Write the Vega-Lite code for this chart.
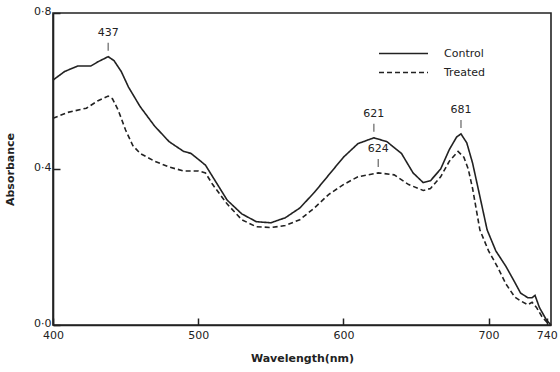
{
  "$schema": "https://vega.github.io/schema/vega-lite/v6.json",
  "width": 498,
  "height": 312,
  "autosize": {"type": "none"},
  "padding": {"left": 53, "top": 13, "right": 9, "bottom": 47},
  "background": "white",
  "config": {
    "view": {"stroke": "#222", "strokeWidth": 1.6},
    "font": "DejaVu Sans",
    "axis": {"domainColor": "#222", "domainWidth": 1.6, "tickColor": "#222", "tickWidth": 1.5, "labelColor": "#222", "titleColor": "#222", "grid": false, "labelFont": "DejaVu Sans", "titleFont": "DejaVu Sans", "labelFontSize": 11, "titleFontSize": 11, "titleFontWeight": "bold"}
  },
  "datasets": {
    "spectra": [
      {"wl": 400, "abs": 0.628, "series": "Control"},
      {"wl": 408, "abs": 0.65, "series": "Control"},
      {"wl": 417, "abs": 0.664, "series": "Control"},
      {"wl": 426, "abs": 0.664, "series": "Control"},
      {"wl": 431, "abs": 0.675, "series": "Control"},
      {"wl": 438, "abs": 0.688, "series": "Control"},
      {"wl": 442, "abs": 0.678, "series": "Control"},
      {"wl": 447, "abs": 0.65, "series": "Control"},
      {"wl": 452, "abs": 0.61, "series": "Control"},
      {"wl": 460, "abs": 0.56, "series": "Control"},
      {"wl": 470, "abs": 0.51, "series": "Control"},
      {"wl": 480, "abs": 0.47, "series": "Control"},
      {"wl": 490, "abs": 0.445, "series": "Control"},
      {"wl": 495, "abs": 0.44, "series": "Control"},
      {"wl": 500, "abs": 0.425, "series": "Control"},
      {"wl": 505, "abs": 0.41, "series": "Control"},
      {"wl": 510, "abs": 0.38, "series": "Control"},
      {"wl": 520, "abs": 0.32, "series": "Control"},
      {"wl": 530, "abs": 0.285, "series": "Control"},
      {"wl": 540, "abs": 0.265, "series": "Control"},
      {"wl": 550, "abs": 0.262, "series": "Control"},
      {"wl": 560, "abs": 0.275, "series": "Control"},
      {"wl": 570, "abs": 0.3, "series": "Control"},
      {"wl": 580, "abs": 0.34, "series": "Control"},
      {"wl": 590, "abs": 0.385, "series": "Control"},
      {"wl": 600, "abs": 0.43, "series": "Control"},
      {"wl": 610, "abs": 0.465, "series": "Control"},
      {"wl": 621, "abs": 0.48, "series": "Control"},
      {"wl": 630, "abs": 0.47, "series": "Control"},
      {"wl": 640, "abs": 0.44, "series": "Control"},
      {"wl": 648, "abs": 0.39, "series": "Control"},
      {"wl": 655, "abs": 0.365, "series": "Control"},
      {"wl": 660, "abs": 0.37, "series": "Control"},
      {"wl": 667, "abs": 0.4, "series": "Control"},
      {"wl": 673, "abs": 0.45, "series": "Control"},
      {"wl": 678, "abs": 0.482, "series": "Control"},
      {"wl": 681, "abs": 0.49, "series": "Control"},
      {"wl": 685, "abs": 0.467, "series": "Control"},
      {"wl": 689, "abs": 0.415, "series": "Control"},
      {"wl": 694, "abs": 0.33, "series": "Control"},
      {"wl": 699, "abs": 0.244, "series": "Control"},
      {"wl": 705, "abs": 0.19, "series": "Control"},
      {"wl": 712, "abs": 0.15, "series": "Control"},
      {"wl": 718, "abs": 0.11, "series": "Control"},
      {"wl": 722, "abs": 0.082, "series": "Control"},
      {"wl": 727, "abs": 0.07, "series": "Control"},
      {"wl": 730, "abs": 0.07, "series": "Control"},
      {"wl": 732, "abs": 0.076, "series": "Control"},
      {"wl": 735, "abs": 0.045, "series": "Control"},
      {"wl": 740, "abs": 0.012, "series": "Control"},
      {"wl": 743, "abs": 0.0, "series": "Control"},
      {"wl": 400, "abs": 0.53, "series": "Treated"},
      {"wl": 410, "abs": 0.545, "series": "Treated"},
      {"wl": 423, "abs": 0.556, "series": "Treated"},
      {"wl": 431, "abs": 0.575, "series": "Treated"},
      {"wl": 438, "abs": 0.587, "series": "Treated"},
      {"wl": 441, "abs": 0.58, "series": "Treated"},
      {"wl": 445, "abs": 0.55, "series": "Treated"},
      {"wl": 450, "abs": 0.5, "series": "Treated"},
      {"wl": 455, "abs": 0.46, "series": "Treated"},
      {"wl": 460, "abs": 0.44, "series": "Treated"},
      {"wl": 470, "abs": 0.42, "series": "Treated"},
      {"wl": 480, "abs": 0.405, "series": "Treated"},
      {"wl": 490, "abs": 0.395, "series": "Treated"},
      {"wl": 500, "abs": 0.395, "series": "Treated"},
      {"wl": 505, "abs": 0.39, "series": "Treated"},
      {"wl": 510, "abs": 0.36, "series": "Treated"},
      {"wl": 520, "abs": 0.31, "series": "Treated"},
      {"wl": 530, "abs": 0.27, "series": "Treated"},
      {"wl": 540, "abs": 0.252, "series": "Treated"},
      {"wl": 550, "abs": 0.25, "series": "Treated"},
      {"wl": 560, "abs": 0.255, "series": "Treated"},
      {"wl": 570, "abs": 0.27, "series": "Treated"},
      {"wl": 580, "abs": 0.3, "series": "Treated"},
      {"wl": 590, "abs": 0.335, "series": "Treated"},
      {"wl": 600, "abs": 0.36, "series": "Treated"},
      {"wl": 610, "abs": 0.38, "series": "Treated"},
      {"wl": 624, "abs": 0.39, "series": "Treated"},
      {"wl": 635, "abs": 0.385, "series": "Treated"},
      {"wl": 645, "abs": 0.36, "series": "Treated"},
      {"wl": 655, "abs": 0.345, "series": "Treated"},
      {"wl": 660, "abs": 0.35, "series": "Treated"},
      {"wl": 667, "abs": 0.38, "series": "Treated"},
      {"wl": 673, "abs": 0.42, "series": "Treated"},
      {"wl": 679, "abs": 0.445, "series": "Treated"},
      {"wl": 683, "abs": 0.43, "series": "Treated"},
      {"wl": 686, "abs": 0.4, "series": "Treated"},
      {"wl": 689, "abs": 0.35, "series": "Treated"},
      {"wl": 694, "abs": 0.244, "series": "Treated"},
      {"wl": 700, "abs": 0.19, "series": "Treated"},
      {"wl": 706, "abs": 0.15, "series": "Treated"},
      {"wl": 712, "abs": 0.105, "series": "Treated"},
      {"wl": 718, "abs": 0.072, "series": "Treated"},
      {"wl": 722, "abs": 0.062, "series": "Treated"},
      {"wl": 727, "abs": 0.052, "series": "Treated"},
      {"wl": 730, "abs": 0.058, "series": "Treated"},
      {"wl": 733, "abs": 0.045, "series": "Treated"},
      {"wl": 737, "abs": 0.02, "series": "Treated"},
      {"wl": 742, "abs": 0.0, "series": "Treated"}
    ],
    "peaks": [
      {"wl": 438, "abs": 0.688, "label": "437"},
      {"wl": 621, "abs": 0.48, "label": "621"},
      {"wl": 624, "abs": 0.39, "label": "624"},
      {"wl": 681, "abs": 0.49, "label": "681"}
    ]
  },
  "layer": [
    {
      "data": {"name": "spectra"},
      "mark": {"type": "line", "color": "#222", "strokeWidth": 1.6},
      "encoding": {
        "x": {"field": "wl", "type": "quantitative", "scale": {"domain": [400, 743], "nice": false, "zero": false},
          "axis": {"values": [400, 500, 600, 700, 740], "tickSize": -7, "labelPadding": 11, "title": "Wavelength(nm)", "titlePadding": 12, "labelFlush": false}},
        "y": {"field": "abs", "type": "quantitative", "scale": {"domain": [0, 0.8], "nice": false},
          "axis": {"values": [0, 0.4, 0.8], "tickSize": -7, "labelPadding": 9, "labelOffset": -2, "labelExpr": "replace(format(datum.value, '.1f'), '.', '·')", "title": "Absorbance", "titlePadding": 18, "labelFlush": false}},
        "strokeDash": {"field": "series", "type": "nominal",
          "scale": {"domain": ["Control", "Treated"], "range": [[1, 0], [5, 3]]},
          "legend": {"title": null, "orient": "none", "legendX": 337, "legendY": 27, "symbolType": "M-2,0H2", "symbolSize": 600, "symbolStrokeWidth": 1.6, "symbolStrokeColor": "#222", "symbolFillColor": "transparent", "labelFontSize": 11, "labelFont": "DejaVu Sans", "labelColor": "#222", "labelOffset": 27, "rowPadding": 0}},
        "detail": {"field": "series"}
      }
    },
    {
      "data": {"name": "peaks"},
      "mark": {"type": "tick", "orient": "vertical", "size": 8, "thickness": 1.2, "color": "#222", "yOffset": -10},
      "encoding": {
        "x": {"field": "wl", "type": "quantitative"},
        "y": {"field": "abs", "type": "quantitative"}
      }
    },
    {
      "data": {"name": "peaks"},
      "mark": {"type": "text", "dy": -24, "fontSize": 11, "font": "DejaVu Sans", "color": "#222"},
      "encoding": {
        "x": {"field": "wl", "type": "quantitative"},
        "y": {"field": "abs", "type": "quantitative"},
        "text": {"field": "label"}
      }
    }
  ]
}
